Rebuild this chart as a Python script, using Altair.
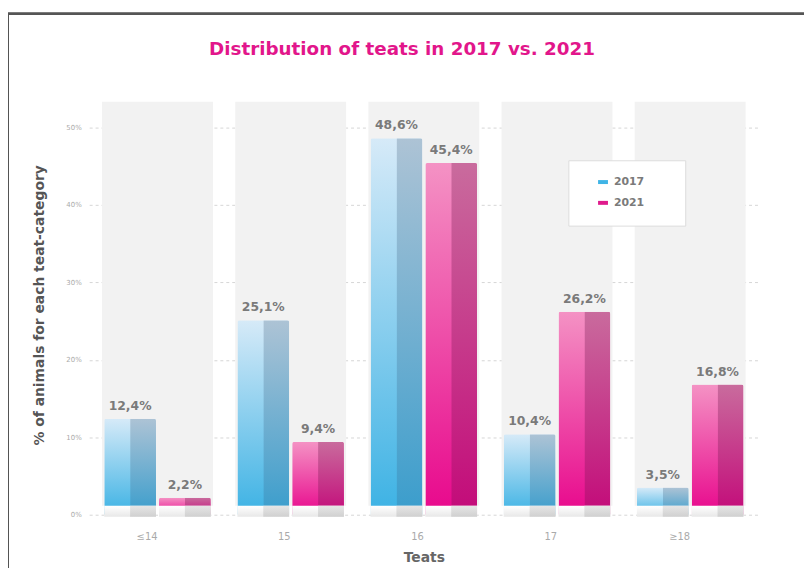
import altair as alt
import pandas as pd

title_text = "Distribution of teats in 2017 vs. 2021"
categories = ["≤14", "15", "16", "17", "≥18"]
years = ["2017", "2021"]
values_2017 = [12.4, 25.1, 48.6, 10.4, 3.5]
values_2021 = [2.2, 9.4, 45.4, 26.2, 16.8]
labels_2017 = ["12,4%", "25,1%", "48,6%", "10,4%", "3,5%"]
labels_2021 = ["2,2%", "9,4%", "45,4%", "26,2%", "16,8%"]

rows = []
for yr, vals, labs in [("2017", values_2017, labels_2017), ("2021", values_2021, labels_2021)]:
    for c, v, l in zip(categories, vals, labs):
        rows.append({"cat": c, "year": yr, "value": v, "label": l})
df = pd.DataFrame(rows)
bg = pd.DataFrame({"cat": categories})
leg = pd.DataFrame({"cat": ["16", "16"], "year": years, "value": [0, 0]})
one = pd.DataFrame({"t": [title_text]})

FONT = "DejaVu Sans"
W, H = 676, 417

xscale = alt.Scale(domain=categories, paddingInner=0.2, paddingOuter=0.113)
yscale = alt.Scale(domain=[0, 53.3], nice=False, zero=True)
BAND = W / (len(categories) - 0.2 + 2 * 0.113) * 0.8
STEP2 = BAND / (2 - 0.055)
HALF = STEP2 * (1 - 0.055) / 2
# full bars: one band per year; right halves: a second offset scale covering the right half of each bar
xoff_full = alt.XOffset("year:N", scale=alt.Scale(domain=years, paddingInner=0.055, paddingOuter=0))
xoff_half = alt.XOffset("year:N", scale=alt.Scale(domain=years, range=[HALF, BAND],
                                                  paddingInner=1 - HALF / STEP2, paddingOuter=0))
xoff_text = alt.XOffset("year:N", scale=alt.Scale(type="point", domain=years, padding=0))
xplain = alt.X("cat:N", scale=xscale, sort=categories)

xenc = alt.X("cat:N", scale=xscale, sort=categories,
             axis=alt.Axis(title="Teats", labelColor="#aaaaaa", labelFontSize=10, labelFont=FONT,
                           labelPadding=22, domain=False, ticks=False, labelAngle=0,
                           titleFont=FONT, titleFontSize=14, titleColor="#666666", titleFontWeight="bold",
                           titlePadding=9))
yenc = alt.Y("value:Q", scale=yscale,
             axis=alt.Axis(title="% of animals for each teat-category", values=[0, 10, 20, 30, 40, 50],
                           labelExpr="datum.value + '%'", labelColor="#aaaaaa", labelFontSize=7,
                           labelFont=FONT, labelPadding=8, domain=False, ticks=False,
                           grid=True, gridDash=[3, 3], gridColor="#d6d6d6",
                           titleFont=FONT, titleFontSize=14, titleColor="#555555", titleFontWeight="bold",
                           titleX=-50, titleY=205, titleBaseline="middle"))

frame = alt.Chart(bg).mark_rect(fill="transparent", stroke="#555555", strokeWidth=2).encode(
    x=alt.value(-82), x2=alt.value(740), y=alt.value(-89), y2=alt.value(480))

title = alt.Chart(one).mark_text(font=FONT, fontSize=18.5, fontWeight="bold", color="#e2168b",
                                 align="center", baseline="middle").encode(
    text="t:N", x=alt.value(316), y=alt.value(-53))

bands = alt.Chart(bg).mark_bar(color="#f2f2f2", width=112).encode(
    x=xplain, y=alt.value(0), y2=alt.value(408))

def grad(top, bottom):
    return alt.Gradient(gradient="linear", x1=0, y1=0, x2=0, y2=1,
                        stops=[alt.GradientStop(color=top, offset=0),
                               alt.GradientStop(color=bottom, offset=1)])

left_fill = {"2017": grad("#d6eaf8", "#3cb2e4"), "2021": grad("#f492c4", "#e8078c")}
right_fill = {"2017": grad("#adc3d5", "#3a9dcc"), "2021": grad("#c96b9d", "#c30a79")}

layers = []
for yr in years:
    sub = alt.Chart(df).transform_filter(alt.datum.year == yr)
    layers.append(sub.mark_bar(fill=left_fill[yr], cornerRadiusTopLeft=2, cornerRadiusTopRight=2)
                  .encode(x=xenc, xOffset=xoff_full, y=yenc))
    layers.append(sub.mark_bar(fill=right_fill[yr], cornerRadiusTopRight=2)
                  .encode(x=xplain, xOffset=xoff_half, y=alt.Y("value:Q", scale=yscale)))
    layers.append(sub.mark_bar(fill=grad("#ffffff", "#e8e8e8"))
                  .encode(x=xplain, xOffset=xoff_full, y=alt.value(408), y2=alt.value(419)))
    layers.append(sub.mark_bar(fill=grad("#e6e6e6", "#d0d0d0"))
                  .encode(x=xplain, xOffset=xoff_half, y=alt.value(408), y2=alt.value(419)))

label_layers = []
for yr, d in [("2017", HALF), ("2021", -HALF)]:
    label_layers.append(
        alt.Chart(df).transform_filter(alt.datum.year == yr).mark_text(
            font=FONT, fontSize=12.5, fontWeight="bold", color="#7a7a7a", align="center",
            baseline="bottom", dy=-6, dx=d).encode(
            x=xplain, xOffset=xoff_text, y=alt.Y("value:Q", scale=yscale), text="label:N")
    )

legend_layer = alt.Chart(leg).mark_line(strokeWidth=4).encode(
    x=xplain,
    y=alt.Y("value:Q", scale=yscale),
    color=alt.Color("year:N", scale=alt.Scale(domain=years, range=["#3fb4e6", "#df1a8c"]),
                    legend=alt.Legend(title=None, orient="none", legendX=484, legendY=59,
                                      fillColor="white", strokeColor="#dddddd", padding=15,
                                      symbolType="stroke", symbolSize=100, symbolStrokeWidth=4,
                                      labelFont=FONT, labelFontSize=11, labelFontWeight="bold",
                                      labelColor="#7a7a7a", rowPadding=5, symbolOffset=13,
                                      labelOffset=4,
                                      labelExpr="datum.label + '\u2800\u2800\u2800'")))

chart = alt.layer(frame, title, bands, *layers, *label_layers, legend_layer).resolve_scale(
    xOffset="independent"
).properties(
    width=W, height=H,
    autosize=alt.AutoSizeParams(type="none"),
    padding={"left": 82, "top": 92, "right": 46, "bottom": 51},
).configure_view(stroke=None)

chart.save("out.html", embed_options={"renderer": "svg", "actions": False})
